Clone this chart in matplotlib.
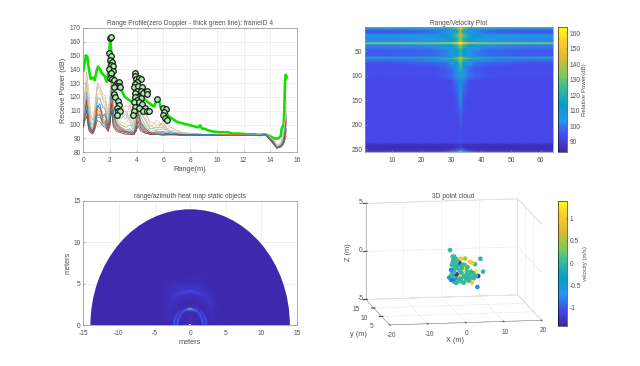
import numpy as np
import matplotlib
matplotlib.use('Agg')
import matplotlib.pyplot as plt
from matplotlib.colors import LinearSegmentedColormap
from matplotlib.patches import Wedge

plt.rcParams['font.family'] = ['Liberation Sans', 'DejaVu Sans']
plt.rcParams['font.size'] = 4.8
plt.rcParams['axes.unicode_minus'] = False
plt.rcParams['text.color'] = '#505050'
plt.rcParams['axes.labelcolor'] = '#505050'
plt.rcParams['xtick.color'] = '#505050'
plt.rcParams['ytick.color'] = '#505050'

# parula look-alike
parula = LinearSegmentedColormap.from_list('parula', [
    (0.2422, 0.1504, 0.6603), (0.2803, 0.2782, 0.9221), (0.1540, 0.5902, 0.9218), (0.0265, 0.6137, 0.8135),
    (0.2000, 0.7200, 0.6300), (0.5044, 0.7993, 0.3480), (0.8500, 0.7300, 0.1900), (0.9955, 0.7861, 0.1967),
    (0.9769, 0.9839, 0.0805)])

# Range profile: thin lines, one per doppler bin
range_m = [0, .1, .25, .4, .55, .7, .85, 1.05, 1.25, 1.45, 1.65, 1.85, 2.0, 2.1, 2.25, 2.5, 2.8, 3.2, 3.5,
           3.8, 3.95, 4.1, 4.3, 4.6, 5, 5.5, 6, 6.5, 7.5, 9, 11, 13, 13.7, 14.2, 14.5, 14.8, 15, 15.2]
thin_lines = [
    [104, 122, 138, 125, 108, 103, 112, 130, 127, 122, 121, 108, 122, 143, 126, 113, 108, 104, 115, 100, 108, 128, 118, 112, 100, 96, 103, 98, 94, 93, 93, 93, 93, 90, 85, 87, 95, 118],
    [103, 118, 133, 118, 102, 99, 108, 126, 128, 118, 116, 104, 118, 140, 122, 110, 105, 110, 104, 98, 106, 124, 113, 106, 98, 103, 99, 95, 94, 93, 93, 93, 93, 89, 84, 86, 92, 113],
    [102, 114, 128, 113, 100, 97, 106, 122, 122, 120, 110, 102, 114, 136, 118, 108, 102, 100, 108, 96, 104, 120, 110, 103, 96, 99, 101, 94, 94, 93, 92, 93, 93, 89, 84, 86, 91, 110],
    [102, 112, 124, 108, 99, 96, 104, 118, 119, 112, 112, 100, 110, 132, 114, 104, 100, 98, 100, 95, 102, 116, 106, 100, 95, 96, 97, 94, 93, 93, 93, 92, 93, 89, 84, 85, 90, 108],
    [101, 110, 120, 105, 98, 95, 102, 116, 114, 108, 106, 99, 108, 128, 110, 102, 98, 96, 96, 95, 100, 112, 103, 98, 94, 94, 95, 94, 93, 93, 93, 92, 92, 88, 83, 85, 90, 106],
    [101, 109, 118, 103, 97, 95, 101, 114, 112, 106, 108, 98, 106, 125, 108, 100, 97, 95, 95, 94, 99, 110, 101, 97, 94, 94, 94, 93, 93, 93, 92, 93, 92, 88, 84, 85, 89, 104],
    [100, 108, 116, 101, 96, 94, 100, 112, 115, 104, 103, 97, 105, 122, 106, 99, 96, 95, 94, 94, 98, 108, 100, 96, 93, 94, 93, 94, 93, 92, 93, 92, 93, 88, 83, 85, 88, 102],
    [100, 106, 114, 100, 96, 95, 99, 111, 109, 103, 102, 97, 104, 120, 104, 98, 96, 94, 94, 94, 97, 106, 99, 95, 94, 93, 94, 93, 93, 93, 92, 92, 92, 87, 83, 85, 88, 100],
    [99, 106, 112, 99, 95, 94, 98, 109, 108, 102, 101, 96, 102, 118, 102, 97, 95, 94, 94, 93, 96, 104, 98, 95, 93, 94, 93, 93, 93, 92, 93, 92, 92, 87, 83, 84, 87, 98],
    [99, 104, 110, 98, 95, 94, 97, 107, 106, 101, 100, 96, 101, 115, 100, 96, 95, 94, 93, 93, 96, 102, 97, 94, 93, 93, 93, 93, 92, 93, 92, 92, 92, 87, 83, 85, 87, 96],
    [98, 103, 108, 97, 94, 94, 96, 105, 105, 100, 99, 95, 100, 112, 99, 96, 94, 93, 94, 93, 95, 100, 96, 94, 93, 93, 93, 92, 93, 92, 92, 93, 92, 87, 83, 84, 86, 94],
    [98, 102, 106, 96, 94, 93, 96, 103, 102, 99, 98, 95, 99, 110, 98, 95, 94, 93, 93, 93, 95, 99, 95, 94, 93, 93, 92, 93, 92, 92, 92, 92, 92, 86, 83, 84, 86, 92],
    [103, 116, 130, 116, 104, 100, 110, 128, 124, 120, 118, 106, 116, 134, 120, 112, 110, 114, 112, 100, 107, 122, 116, 108, 102, 100, 100, 96, 94, 93, 93, 92, 93, 89, 84, 86, 93, 112],
    [101, 111, 122, 110, 98, 96, 103, 120, 118, 114, 110, 101, 112, 130, 112, 106, 104, 108, 102, 97, 103, 118, 108, 104, 97, 98, 98, 95, 93, 93, 92, 93, 92, 88, 84, 85, 90, 107],
    [100, 107, 115, 102, 97, 95, 100, 113, 111, 105, 106, 98, 106, 123, 107, 101, 98, 96, 97, 94, 99, 109, 102, 98, 94, 95, 95, 93, 93, 92, 93, 92, 92, 88, 83, 85, 88, 103],
    [99, 105, 111, 99, 96, 94, 98, 108, 107, 102, 101, 97, 102, 116, 101, 97, 95, 95, 94, 93, 96, 103, 98, 95, 94, 93, 93, 93, 93, 93, 92, 92, 93, 87, 83, 84, 87, 97],
]
thin_colors = ['#c9a27a', '#e0b48e', '#d8c48a', '#77ac30', '#4dbeee', '#a2142f', '#0072bd',
               '#d95319', '#edb120', '#7e2f8e', '#77ac30', '#a2142f', '#d9b79a', '#4dbeee', '#d95319', '#0072bd']

# Range profile: zero doppler
green_x = [0, .1, .2, .3, .45, .55, .7, .85, 1.0, 1.1, 1.25, 1.4, 1.6, 1.75, 1.9, 2.0, 2.05, 2.15, 2.3, 2.5, 2.7, 2.9,
           3.1, 3.4, 3.7, 3.85, 4.0, 4.3, 4.6, 5.0, 5.3, 5.5, 5.65, 5.8, 6.1, 6.4, 6.7, 7.0, 7.4, 7.8, 8.2, 8.6, 8.75,
           8.9, 9.1, 9.3, 9.7, 10.2, 10.8, 11.2, 11.7, 12.3, 12.8, 13.2, 13.6, 14.0, 14.3, 14.6, 14.8, 14.85, 15.0,
           15.05, 15.1, 15.15, 15.25]
green_y = [139, 145, 150, 149, 138, 133, 134, 132, 139, 142, 140, 137, 135, 131, 140, 163, 160, 140, 135, 131, 128, 124,
           120, 118, 116, 122, 127, 124, 118, 115, 113, 118, 118, 112, 110, 106, 104, 102, 101, 100, 99, 98, 99.5,
           97, 97, 96, 95, 94.5, 94.5, 93.5, 93.5, 93, 93, 92.5, 93, 91.5, 90, 90, 92, 97, 100,
           110, 130, 136, 134]

# Detected peaks
peak_x = [2.0, 2.05, 1.95, 2.1, 2.0, 2.15, 2.05, 2.2, 1.95, 2.25, 2.05, 2.0, 2.15, 2.3, 2.5, 2.7, 2.45, 2.65, 2.3, 2.75,
          2.3, 2.4, 2.6, 2.7, 2.5, 2.6, 2.75, 2.55,
          3.85, 3.9, 3.95, 4.2, 4.35, 4.05, 3.9, 3.8, 4.1, 4.4, 4.0, 4.3, 3.85, 4.5, 4.75, 4.8, 4.1, 3.85, 4.3, 4.0,
          3.8, 4.2, 4.4, 3.9, 4.2, 4.6, 4.5, 4.75, 4.95, 3.8, 3.75,
          5.55, 6.0, 6.2, 6.05, 6.0, 6.1, 6.25]
peak_y = [162.5, 163, 152, 149.5, 147, 145, 143, 142, 140, 138.5, 137, 134, 133, 132, 130, 131, 128, 128, 127, 127,
          122, 120, 117, 114, 112, 110, 110, 107,
          137.5, 135, 133, 134, 133, 131, 129, 127, 128, 127, 124, 124, 123, 123, 124, 122, 120, 120, 119, 118,
          116, 116, 115, 113, 112, 112, 110, 110, 110, 110, 107,
          118.5, 112, 111.5, 109, 107, 105, 103.5]

# Range/velocity map, dB
rv_cols = [1, 6, 12, 18, 24, 28, 30, 32, 33, 34, 36, 38, 42, 48, 54, 60, 64]
rv_rows = [1, 3, 5, 8, 14, 16, 22, 24, 31, 33, 35, 37, 45, 50, 60, 63, 65, 67, 70, 73, 81, 90, 102, 110, 122, 150,
           170, 205, 236, 241, 247, 253, 255, 256]
rv_power = [
    [120, 120, 121, 121, 122, 124, 127, 140, 160, 140, 127, 124, 122, 121, 120, 120, 119],
    [121, 121, 122, 122, 123, 125, 129, 143, 161, 143, 128, 125, 122, 121, 121, 121, 120],
    [102, 102, 102, 103, 104, 108, 113, 125, 145, 125, 113, 108, 103, 102, 102, 102, 102],
    [95, 95, 96, 96, 98, 101, 105, 116, 135, 116, 105, 101, 97, 96, 95, 95, 95],
    [96, 96, 96, 97, 99, 102, 107, 118, 138, 118, 107, 102, 98, 96, 96, 96, 96],
    [106, 105, 106, 106, 108, 112, 116, 127, 145, 127, 116, 112, 108, 106, 105, 106, 105],
    [107, 106, 107, 107, 109, 113, 117, 127, 143, 127, 117, 113, 109, 107, 106, 106, 106],
    [101, 101, 101, 102, 103, 106, 111, 120, 134, 120, 111, 106, 103, 102, 101, 101, 101],
    [102, 102, 102, 103, 105, 108, 112, 122, 137, 122, 112, 108, 104, 103, 102, 102, 102],
    [128, 128, 129, 129, 130, 133, 138, 150, 164, 150, 139, 134, 130, 129, 128, 128, 128],
    [136, 136, 136, 136, 137, 139, 143, 153, 164, 153, 143, 139, 137, 136, 136, 136, 135],
    [101, 101, 101, 102, 105, 110, 114, 125, 140, 125, 114, 110, 105, 102, 101, 101, 101],
    [98, 98, 99, 99, 100, 104, 108, 116, 128, 116, 108, 104, 100, 99, 98, 98, 98],
    [95, 95, 96, 96, 97, 100, 103, 111, 123, 111, 103, 100, 97, 96, 95, 95, 95],
    [96, 96, 96, 97, 98, 101, 105, 112, 124, 112, 105, 101, 98, 97, 96, 96, 96],
    [103, 103, 103, 103, 105, 108, 114, 123, 138, 123, 114, 108, 105, 103, 103, 103, 103],
    [119, 117, 106, 115, 117, 123, 127, 135, 146, 135, 129, 121, 117, 115, 106, 117, 118],
    [98, 98, 98, 99, 100, 104, 110, 121, 135, 121, 110, 104, 100, 99, 98, 98, 98],
    [99, 99, 99, 100, 102, 105, 110, 123, 138, 123, 110, 105, 102, 100, 99, 99, 99],
    [95, 95, 95, 96, 97, 99, 104, 115, 130, 115, 104, 99, 97, 96, 95, 95, 95],
    [94, 94, 94, 94, 95, 97, 100, 110, 126, 110, 100, 97, 95, 94, 94, 94, 94],
    [94, 94, 94, 94, 94, 95, 97, 105, 120, 105, 97, 95, 94, 94, 94, 94, 94],
    [94, 94, 94, 94, 94, 96, 98, 104, 116, 104, 99, 97, 95, 94, 94, 94, 94],
    [93, 93, 93, 93, 93, 93, 94, 100, 113, 100, 94, 93, 93, 93, 93, 93, 93],
    [93, 93, 93, 93, 93, 93, 94, 98, 112, 98, 94, 93, 93, 93, 93, 93, 93],
    [93, 93, 93, 93, 93, 93, 93, 95, 106, 95, 93, 93, 93, 93, 93, 93, 93],
    [93, 93, 93, 93, 93, 93, 93, 94, 98, 94, 93, 93, 93, 93, 93, 93, 93],
    [93, 93, 93, 93, 93, 93, 93, 93, 95, 93, 93, 93, 93, 93, 93, 93, 93],
    [93, 93, 93, 93, 93, 93, 93, 93, 94, 93, 93, 93, 93, 93, 93, 93, 93],
    [86, 86, 86, 86, 86, 86, 86, 87, 88, 87, 86, 86, 86, 86, 86, 86, 86],
    [85, 85, 85, 85, 85, 85, 85, 87, 92, 87, 85, 85, 85, 85, 85, 85, 85],
    [87, 87, 87, 87, 87, 88, 90, 98, 115, 98, 90, 88, 87, 87, 87, 87, 87],
    [92, 92, 93, 93, 93, 96, 100, 116, 135, 116, 100, 96, 93, 93, 92, 92, 92],
    [95, 95, 96, 96, 96, 99, 104, 122, 140, 122, 104, 99, 96, 96, 95, 95, 95],
]
rv_ticks_x = [10, 20, 30, 40, 50, 60]
rv_ticks_y = [50, 100, 150, 200, 250]
rv_cbar_ticks = [90, 100, 110, 120, 130, 140, 150, 160]

# Range/azimuth heat map, inner part only
ra_radius = [.25, .6, 1.0, 1.25, 1.5, 1.7, 1.85, 2.0, 2.15, 2.3, 2.5, 2.8, 3.3, 3.8, 4.1, 4.4, 4.9, 5.3, 6, 7]
ra_angle = [0, 15, 30, 45, 60, 75, 90, 105, 120, 135, 150, 165, 180]
ra_power = [
    [4, 4, 5, 5, 6, 7, 8, 7, 6, 5, 5, 4, 4],
    [3, 4, 4, 4, 5, 5, 6, 5, 5, 4, 4, 4, 3],
    [3, 3, 4, 3, 4, 4, 5, 4, 4, 3, 4, 3, 3],
    [3, 3, 3, 3, 3, 4, 4, 4, 3, 3, 3, 3, 3],
    [3, 3, 3, 3, 3, 3, 3, 3, 3, 3, 3, 3, 3],
    [6, 9, 8, 6, 5, 5, 5, 5, 5, 6, 8, 9, 6],
    [16, 20, 16, 11, 8, 8, 14, 9, 8, 11, 16, 20, 16],
    [8, 9, 12, 15, 20, 28, 66, 30, 19, 15, 12, 9, 8],
    [6, 7, 6, 5, 6, 8, 16, 8, 6, 5, 6, 7, 6],
    [15, 18, 16, 11, 7, 5, 6, 5, 7, 11, 16, 18, 15],
    [6, 6, 5, 5, 4, 4, 4, 4, 4, 5, 5, 6, 6],
    [3, 4, 4, 4, 3, 3, 3, 3, 3, 4, 4, 4, 3],
    [3, 5, 5, 5, 5, 5, 5, 5, 5, 5, 5, 5, 3],
    [3, 3, 5, 6, 6, 6, 6, 6, 6, 6, 5, 4, 3],
    [3, 3, 5, 7, 10, 13, 14, 13, 10, 7, 5, 3, 3],
    [3, 3, 4, 5, 7, 8, 8, 8, 7, 5, 4, 3, 3],
    [3, 3, 3, 4, 5, 6, 5, 6, 6, 5, 4, 3, 3],
    [3, 3, 3, 3, 4, 5, 4, 5, 6, 4, 3, 3, 3],
    [3, 3, 3, 3, 3, 4, 3, 3, 4, 3, 3, 3, 3],
    [3, 3, 3, 3, 3, 3, 3, 3, 3, 3, 3, 3, 3],
]

# Point cloud
cloud_x = [-2.0, -1.3, -0.9, -0.6, -1.3, -0.4, -1.5, -0.9, 0, 0.9, 2.0, 3.2, 3.9, 4.6, 6.0, 0.3, -1.7, -0.9, -0.3, 0.4,
           1.5, 2.6, 3.5, 4.8, 5.4, 6.7, -2.2, -1.7, -0.9, -0.4, 0.9, 2.2, 3.7, 5.2, 3.9, 1.7, 0.4, -0.9, 2.6, 1.3,
           0, -1.5, 3.1, 4.8, -0.4, 0.9, -1.1, -0.2, 0.6, 1.1, 1.9, 2.4, 3.0, -1.0, 0, 0.9, 1.6, 2.8, -1.4, -0.7,
           -1.0, -0.3, 0.5, 1.4, 2.2, 3.3, 4.1, -1.6, -0.6, 0.2, 1.0, 2.0, 3.0, 4.3]
cloud_y = [5, 5, 5, 5, 5, 5, 5, 5, 5, 5, 5, 5, 5, 5, 5, 5, 5, 5, 5, 5,
           5, 5, 5, 5, 5, 5, 5, 5, 5, 5, 5, 5, 5, 5, 5, 5, 5, 5, 5, 5,
           5, 5, 5, 5, 5, 5, 5, 5, 5, 5, 5, 5, 5, 5, 5, 5, 5, 5, 5, 5,
           5, 5, 5, 5, 5, 5, 5, 5, 5, 5, 5, 5, 5, 5]
cloud_z = [1.69, 1.0, 1.0, .76, .41, .31, .14, -.03, .14, .76, .76, .41, .28, .14, .69, .38, -.38, -.62, -.83, -.9,
           -.45, -.14, -.62, -.62, -1.1, -.66, -1.17, -1.41, -1.31, -1.76, -1.59, -1.41, -1.76, -2.24, -1.24, -1.07,
           -.38, -1.07, -.66, .14, -1.24, -.83, -1.07, -1.07, -.2, -.66, .6, .5, .3, -.2, .1, -.9, -1.3, -1.6, -1.6,
           -1.3, -1.75, -1.55, -.5, -.2,
           .9, .7, .1, -.5, -.4, -.9, -.8, -.9, -1.5, -1.1, -.7, -1.2, -1.5, -1.3]
cloud_v = [0, 0, 0, 0, 0, 0, 0, 0, 0, 1, .5, 1, 1, 0, 0, -1.3, -.8, 0, -1.3, 1,
           1.2, 0, 0, 1.4, -1.3, 0, -.3, -.9, -.8, 0, 0, 0, 1, -.6, 0, 0, 0, 0, 0, 0,
           0, 0, 0, 0, 0, 0, 0, .1, 0, 0, .2, 0, 0, 0, 0, 0, 0, 0, 0, 0,
           0, .1, 0, 0, 0, .1, 0, 0, 0, 0, 0, 0, .1, 0]
draw_last = [15, 18, 19, 20, 23, 24, 16, 28, 27]
z_ticks = [-5, 0, 5]

W, H = 640.0, 366.0


def rect(x0, y0, x1, y1):
    return [x0 / W, 1 - y1 / H, (x1 - x0) / W, (y1 - y0) / H]


def style(ax):
    for s in ax.spines.values():
        s.set_linewidth(0.5)
        s.set_color('#909090')
    ax.tick_params(length=1.5, width=0.4, direction='in', pad=2, color='#909090')
    ax.tick_params(axis='x', pad=3.5)


fig = plt.figure(figsize=(6.4, 3.66), dpi=100, facecolor='white')

# range profile
ax1 = fig.add_axes(rect(83.3, 27.7, 297, 152.3))
ax1.plot(green_x, green_y, color='#12e000', lw=1.9, zorder=2)
for line, c in zip(thin_lines, thin_colors):
    ax1.plot(range_m, line, color=c, lw=0.45, alpha=0.85, zorder=3)
ax1.plot(peak_x, peak_y, 'o', ms=4, mfc='#a8eeaa', mec='#101010', mew=0.85, ls='none', zorder=4)
ax1.set_xlim(0, 16)
ax1.set_ylim(80, 170)
ax1.set_xticks(range(0, 17, 2))
ax1.set_yticks(range(80, 171, 10))
ax1.grid(color='#ececec', lw=0.5)
ax1.set_axisbelow(True)
ax1.set_title('Range Profile(zero Doppler - thick green line): frameID 4', fontsize=4.8, pad=2)
ax1.set_xlabel('Range(m)', fontsize=5.3, labelpad=1)
ax1.set_ylabel('Receive Power (dB)', fontsize=5.3, labelpad=1.5)
style(ax1)

# range/velocity
ax2 = fig.add_axes(rect(365.3, 27.3, 552.7, 152.3))
m2 = ax2.pcolormesh(rv_cols, rv_rows, np.array(rv_power), cmap=parula, vmin=83, vmax=164, shading='gouraud')
ax2.set_xlim(1, 64)
ax2.set_ylim(256, 1)
ax2.set_xticks(rv_ticks_x)
ax2.set_yticks(rv_ticks_y)
ax2.set_title('Range/Velocity Plot', fontsize=4.8, pad=2)
style(ax2)
cax2 = fig.add_axes(rect(558.3, 27.3, 567.3, 152.3))
cb2 = fig.colorbar(m2, cax=cax2, ticks=rv_cbar_ticks)
cb2.set_label('Relative Power(dB)', fontsize=4.4, labelpad=1.5)
cb2.outline.set_linewidth(0.4)
cax2.tick_params(length=1, width=0.3, direction='in', pad=1.5)

# range/azimuth
ax3 = fig.add_axes(rect(83.3, 201, 297, 325.3))
ax3.add_patch(Wedge((0, 0), 14, 0, 180, width=13.75, color=parula(0.0102), lw=0))
r_grid, a_grid = np.meshgrid(ra_radius, np.deg2rad(ra_angle), indexing='ij')
ax3.pcolormesh(r_grid * np.cos(a_grid), r_grid * np.sin(a_grid), np.array(ra_power),
               cmap=parula, vmin=2, vmax=100, shading='gouraud')
ax3.plot([-14, 14], [0.03, 0.03], color='#4a30c8', lw=0.6)
ax3.set_xlim(-15, 15)
ax3.set_ylim(0, 15)
ax3.set_xticks([-15, -10, -5, 0, 5, 10, 15])
ax3.set_yticks([0, 5, 10, 15])
ax3.grid(color='#ececec', lw=0.5)
ax3.set_axisbelow(True)
ax3.set_title('range/azimuth heat map static objects', fontsize=4.8, pad=2)
ax3.set_xlabel('meters', fontsize=5.3, labelpad=1)
ax3.set_ylabel('meters', fontsize=5.3, labelpad=1.5)
style(ax3)

# point cloud
ax4 = fig.add_axes(rect(339, 184, 564, 344), projection='3d', proj_type='ortho')
ax4.view_init(elev=10.4, azim=-99.6)
ax4.set_box_aspect((465, 431, 295), zoom=1.405)
order = [i for i in range(len(cloud_x)) if i not in draw_last] + draw_last
sc = ax4.scatter(np.array(cloud_x)[order], np.array(cloud_y)[order], np.array(cloud_z)[order],
                 c=np.array(cloud_v)[order], cmap=parula, vmin=-1.4, vmax=1.4, s=11, depthshade=False,
                 linewidths=0)
ax4.set_xlim(-20, 20)
ax4.set_ylim(0, 15)
ax4.set_zlim(-5, 5)
ax4.set_xticks([-20, -10, 0, 10, 20])
ax4.set_yticks([5, 10, 15])
ax4.set_zticks(z_ticks)
ax4.tick_params(axis='z', labelcolor='none')
for z, py in zip(z_ticks, [298, 251, 203]):
    fig.text(361 / W, 1 - py / H, str(z), ha='center', va='center', fontsize=4.8)
for a in (ax4.xaxis, ax4.yaxis, ax4.zaxis):
    a.set_pane_color((1, 1, 1, 1))
    a.pane.set_edgecolor('#c0c0c0')
    a.pane.set_linewidth(0.4)
    a._axinfo['grid']['color'] = '#e8e8e8'
    a._axinfo['grid']['linewidth'] = 0.4
    a.line.set_linewidth(0.4)
    a.line.set_color('#909090')
ax4.tick_params(axis='x', labelsize=4.8, pad=-4.5, length=1)
ax4.tick_params(axis='y', labelsize=4.8, pad=-4, length=1)
ax4.tick_params(axis='z', labelsize=1, pad=-4, length=1)
fig.text(453 / W, 1 - 196 / H, '3D point cloud', fontsize=4.8, ha='center', va='center')
fig.text(455 / W, 1 - 340 / H, 'X (m)', fontsize=5.3, ha='center', va='center')
fig.text(358 / W, 1 - 335 / H, 'y (m)', fontsize=5.3, ha='center', va='center')
fig.text(348 / W, 1 - 252 / H, 'Z (m)', fontsize=5.3, ha='center', va='center', rotation=90)
cax4 = fig.add_axes(rect(558.3, 200.7, 567.3, 325.7))
cb4 = fig.colorbar(sc, cax=cax4, ticks=[-1, -0.5, 0, 0.5, 1])
cb4.ax.set_yticklabels(['-1', '-0.5', '0', '0.5', '1'])
cb4.set_label('velocity (m/s)', fontsize=4.2, labelpad=1.5)
cb4.outline.set_linewidth(0.4)
cax4.tick_params(length=1, width=0.3, direction='in', pad=1.5)

fig.savefig('out.png', dpi=100)
